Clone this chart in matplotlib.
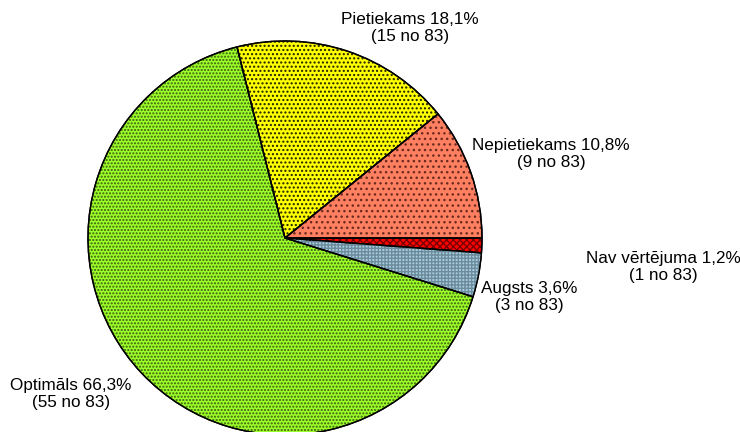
import matplotlib.pyplot as plt
from matplotlib.patches import Wedge

# data, in drawing order (clockwise from 3 o'clock)
categories = ["Nav vērtējuma", "Augsts", "Optimāls", "Pietiekams", "Nepietiekams"]
counts = [1, 3, 55, 15, 9]
total = 83
percent_labels = ["1,2%", "3,6%", "66,3%", "18,1%", "10,8%"]

face_colors = ["#ff0000", "#a8cde0", "#9cff2a", "#ffff00", "#ff8060"]
hatch_colors = ["#7a0000", "#6c8c9c", "#3c5a10", "#202000", "#6a2a20"]
hatches = ["xxxxx", "+++++", ".....", "....", "..."]

# label centres in pixel coordinates (y from top)
label_pos = [(663, 267), (529, 297), (71, 394), (410, 28), (551, 154)]

W, H = 740, 432
fig = plt.figure(figsize=(W / 100, H / 100), dpi=100)
ax = fig.add_axes([0, 0, 1, 1])

center = (285, H - 238)
radius = 197

wedges, _ = ax.pie(
    counts,
    colors=face_colors,
    startangle=0,
    counterclock=False,
    center=center,
    radius=radius,
    wedgeprops=dict(edgecolor="black", linewidth=1.0),
    frame=True,
)
ax.set_xlim(0, W)
ax.set_ylim(0, H)
ax.set_aspect("equal")
ax.axis("off")

plt.rcParams["hatch.linewidth"] = 1.0
for w, hc, hp in zip(wedges, hatch_colors, hatches):
    overlay = Wedge(w.center, w.r, w.theta1, w.theta2,
                    facecolor="none", edgecolor=hc, hatch=hp, linewidth=0)
    ax.add_patch(overlay)
    edge = Wedge(w.center, w.r, w.theta1, w.theta2,
                 facecolor="none", edgecolor="black", linewidth=1.0)
    ax.add_patch(edge)

for name, n, pct, (px, py) in zip(categories, counts, percent_labels, label_pos):
    ax.text(px, H - py, f"{name} {pct}\n({n} no {total})",
            ha="center", va="center", fontsize=12.3, linespacing=1.22,
            family="Liberation Sans", color="black")

fig.savefig("out.png", dpi=100)
